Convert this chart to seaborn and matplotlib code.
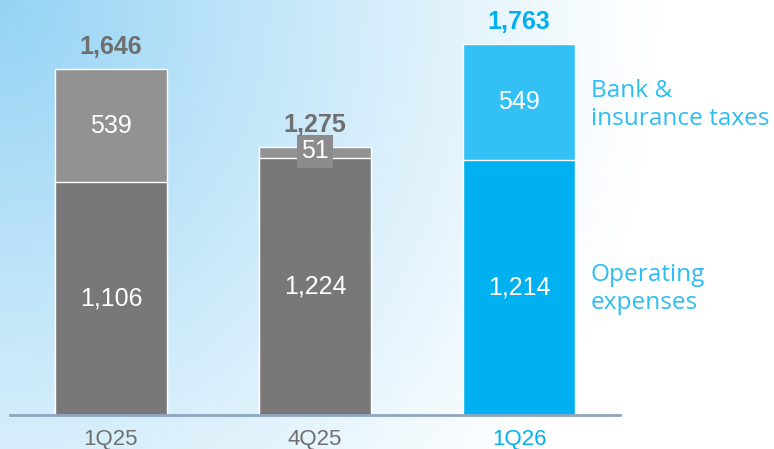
import matplotlib
matplotlib.use("Agg")
import matplotlib.pyplot as plt
import numpy as np
import pandas as pd
import seaborn as sns

# Valores del gráfico
trimestres = ["1Q25", "4Q25", "1Q26"]
gastos_operativos = [1106, 1224, 1214]
impuestos_banca = [539, 51, 549]
totales = [1646, 1275, 1763]
etiquetas_total = ["1,646", "1,275", "1,763"]
etiquetas_opex = ["1,106", "1,224", "1,214"]
etiquetas_impuestos = ["539", "51", "549"]

color_base = {"1Q25": "#787878", "4Q25": "#787878", "1Q26": "#00B0F0"}
color_arriba = {"1Q25": "#929292", "4Q25": "#929292", "1Q26": "#33C1F5"}
color_texto = {"1Q25": "#6f6f6f", "4Q25": "#6f6f6f", "1Q26": "#00B0F0"}

sns.set_style("white")
plt.rcParams["font.family"] = ["Liberation Sans", "DejaVu Sans"]

df = pd.DataFrame({
    "trimestre": trimestres,
    "opex": gastos_operativos,
    "impuestos": impuestos_banca,
    "total": totales,
})

W, H = 774, 449
fig = plt.figure(figsize=(W / 100, H / 100), dpi=100)

# Fondo degradado azul claro desde la esquina superior izquierda
bg = fig.add_axes([0, 0, 1, 1], zorder=0)
xx, yy = np.meshgrid(np.linspace(0, 1, 200), np.linspace(0, 1, 120))
d = np.sqrt((xx / 0.85) ** 2 + (yy / 1.7) ** 2)
w = np.clip(1 - d, 0, 1) ** 1.1
azul = np.array([148, 211, 245]) / 255
img = 1 - w[..., None] * (1 - azul)
bg.imshow(img, aspect="auto", extent=[0, 1, 0, 1], origin="upper")
bg.axis("off")

ax = fig.add_axes([10 / W, 34 / H, 610 / W, 415 / H], zorder=1)
ax.patch.set_alpha(0)

sns.barplot(data=df, x="trimestre", y="total", hue="trimestre",
            palette=color_arriba, width=0.549, legend=False,
            edgecolor="white", linewidth=1, saturation=1, ax=ax)
sns.barplot(data=df, x="trimestre", y="opex", hue="trimestre",
            palette=color_base, width=0.549, legend=False,
            edgecolor="white", linewidth=1, saturation=1, ax=ax)

ax.set_xlim(-0.495, 2.495)
ax.set_ylim(0, 1974)
ax.set_xlabel("")
ax.set_ylabel("")
ax.set_yticks([])
for s in ["top", "right", "left"]:
    ax.spines[s].set_visible(False)
ax.spines["bottom"].set_color("#8EA6BE")
ax.spines["bottom"].set_linewidth(2)
ax.tick_params(axis="x", length=0, pad=10, labelsize=16)
for lbl, q in zip(ax.get_xticklabels(), trimestres):
    lbl.set_color(color_texto[q])

for i, q in enumerate(trimestres):
    opex = gastos_operativos[i]
    imp = impuestos_banca[i]
    ax.text(i, opex / 2, etiquetas_opex[i], ha="center", va="center",
            color="white", fontsize=18)
    if imp < 150:
        ax.text(i, opex + imp / 2 + 5, etiquetas_impuestos[i], ha="center",
                va="center", color="white", fontsize=18,
                bbox=dict(boxstyle="square,pad=0.18", fc="#8c8c8c", ec="none"))
    else:
        ax.text(i, opex + imp / 2, etiquetas_impuestos[i], ha="center",
                va="center", color="white", fontsize=18)
    ax.annotate(etiquetas_total[i], (i, totales[i]), xytext=(0, 16),
                textcoords="offset points", ha="center", va="center",
                color=color_texto[q], fontsize=18, fontweight="bold")

# Etiquetas de la leyenda a la derecha
fig.text(591 / W, 1 - 105 / H, "Bank &\ninsurance taxes", ha="left",
         va="center", color="#2DBDF2", fontsize=17.6, linespacing=1.25,
         family=["Open Sans", "DejaVu Sans"])
fig.text(591 / W, 1 - 289 / H, "Operating\nexpenses", ha="left",
         va="center", color="#2DBDF2", fontsize=17.6, linespacing=1.25,
         family=["Open Sans", "DejaVu Sans"])

fig.savefig("out.png", dpi=100)
